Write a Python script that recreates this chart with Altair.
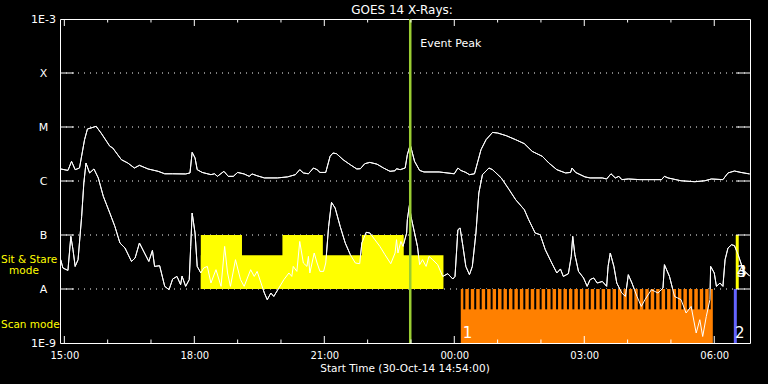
import json
import altair as alt
import pandas as pd

# ---------------- data ----------------
long_time = ["14:55", "15:05", "15:10", "15:15", "15:21", "15:28", "15:32", "15:37", "15:44", "15:51",
             "16:03", "16:07", "16:19", "16:28", "16:37", "16:44", "16:56", "17:10", "17:19", "17:30",
             "17:48", "17:54", "17:57", "18:01", "18:04", "18:11", "18:23", "18:28", "18:32", "18:41",
             "18:47", "18:54", "19:00", "19:09", "19:16", "19:20", "19:27", "19:37", "19:55", "20:09",
             "20:20", "20:26", "20:31", "20:38", "20:45", "20:50", "20:54", "21:02", "21:08", "21:12",
             "21:17", "21:26", "21:36", "21:45", "21:50", "21:56", "22:03", "22:13", "22:22", "22:31",
             "22:38", "22:40", "22:45", "22:52", "22:55", "22:59", "23:05", "23:12", "23:18", "23:39",
             "00:00", "00:05", "00:09", "00:16", "00:21", "00:28", "00:32", "00:37", "00:44", "00:53",
             "01:00", "01:12", "01:25", "01:37", "01:48", "02:02", "02:11", "02:22", "02:34", "02:41",
             "02:43", "02:48", "03:01", "03:08", "03:25", "03:31", "03:37", "03:43", "03:48", "03:52",
             "04:01", "04:17", "04:47", "04:51", "04:56", "05:14", "05:33", "05:47", "05:56", "06:12",
             "06:19", "06:28", "06:37", "06:49"]
long_flux = [1.67e-6, 1.57e-6, 2.31e-6, 1.62e-6, 1.74e-6, 5.82e-6, 9.2e-6, 9.6e-6, 1.03e-5, 7.7e-6,
             4.4e-6, 4.1e-6, 2.48e-6, 2.15e-6, 1.74e-6, 1.95e-6, 1.67e-6, 1.51e-6, 1.36e-6, 1.36e-6,
             1.35e-6, 1.41e-6, 3.39e-6, 2.67e-6, 1.62e-6, 1.44e-6, 1.31e-6, 1.36e-6, 1.22e-6, 1.51e-6,
             1.22e-6, 1.22e-6, 1.44e-6, 1.35e-6, 1.22e-6, 1.35e-6, 1.25e-6, 1.14e-6, 1.14e-6, 1.19e-6,
             1.31e-6, 1.62e-6, 1.41e-6, 1.36e-6, 1.74e-6, 1.62e-6, 1.44e-6, 1.44e-6, 2.86e-6, 3.30e-6,
             3.2e-6, 2.48e-6, 2.0e-6, 1.67e-6, 1.69e-6, 2.09e-6, 2.21e-6, 2.05e-6, 1.74e-6, 1.51e-6,
             1.55e-6, 1.69e-6, 1.62e-6, 1.74e-6, 3.07e-6, 4.70e-6, 2.31e-6, 1.57e-6, 1.47e-6, 1.47e-6,
             1.36e-6, 1.74e-6, 1.57e-6, 1.44e-6, 1.31e-6, 1.36e-6, 2.15e-6, 3.8e-6, 5.82e-6, 7.94e-6,
             7.74e-6, 6.9e-6, 5.82e-6, 4.91e-6, 3.53e-6, 2.86e-6, 2.15e-6, 1.62e-6, 1.41e-6, 1.44e-6,
             1.74e-6, 1.44e-6, 1.19e-6, 1.14e-6, 1.14e-6, 1.09e-6, 1.36e-6, 1.14e-6, 1.22e-6, 1.06e-6,
             1.09e-6, 1.06e-6, 1.06e-6, 1.22e-6, 1.14e-6, 1.01e-6, 9.7e-7, 1.01e-6, 1.09e-6, 1.06e-6,
             1.41e-6, 1.53e-6, 1.44e-6, 1.35e-6]

short_time = ["14:55", "14:58", "15:05", "15:09", "15:12", "15:15", "15:19", "15:24", "15:27", "15:30",
              "15:35", "15:41", "15:47", "15:54", "16:03", "16:10", "16:17", "16:24", "16:33", "16:38",
              "16:44", "16:51", "16:57", "17:02", "17:05", "17:12", "17:19", "17:25", "17:30", "17:36",
              "17:41", "17:43", "17:48", "17:53", "17:55", "17:57", "18:01", "18:04", "18:09", "18:13",
              "18:18", "18:23", "18:30", "18:37", "18:42", "18:46", "18:50", "18:57", "19:04", "19:09",
              "19:18", "19:23", "19:27", "19:37", "19:41", "19:46", "19:50", "19:57", "20:04", "20:11",
              "20:15", "20:17", "20:22", "20:26", "20:31", "20:36", "20:38", "20:40", "20:46", "20:50",
              "20:54", "20:59", "21:02", "21:06", "21:10", "21:15", "21:22", "21:29", "21:36", "21:43",
              "21:49", "21:52", "21:58", "22:03", "22:10", "22:17", "22:24", "22:32", "22:38", "22:40",
              "22:42", "22:46", "22:49", "22:54", "22:55", "22:58", "23:00", "23:05", "23:09", "23:12",
              "23:16", "23:21", "23:25", "23:30", "23:37", "23:44", "23:51", "23:58", "00:01", "00:05",
              "00:08", "00:12", "00:16", "00:21", "00:25", "00:30", "00:34", "00:39", "00:48", "00:53",
              "01:05", "01:16", "01:25", "01:37", "01:43", "01:52", "01:59", "02:06", "02:15", "02:22",
              "02:27", "02:31", "02:38", "02:42", "02:44", "02:47", "02:52", "02:59", "03:04", "03:08",
              "03:13", "03:18", "03:25", "03:31", "03:33", "03:36", "03:41", "03:45", "03:52", "03:57",
              "04:01", "04:06", "04:13", "04:19", "04:24", "04:33", "04:42", "04:49", "04:51", "04:58",
              "05:05", "05:14", "05:21", "05:28", "05:35", "05:40", "05:44", "05:49", "05:54", "05:55",
              "06:00", "06:03", "06:08", "06:12", "06:15", "06:19", "06:24", "06:28", "06:33", "06:40",
              "06:47", "06:49"]
short_flux = [3.49e-8, 2.45e-8, 2.21e-8, 9.42e-8, 5.35e-8, 2.62e-8, 3.49e-8, 2.21e-7, 9.18e-7, 2.15e-6,
              1.41e-6, 1.67e-6, 1.14e-6, 5.19e-7, 2.55e-7, 1.44e-7, 7.11e-8, 5.74e-8, 3.24e-8, 3.75e-8,
              7.11e-8, 4.64e-8, 3.24e-8, 5.19e-8, 2.62e-8, 2.7e-8, 1.12e-8, 9.7e-9, 1.53e-8, 1.71e-8,
              1.2e-8, 1.73e-8, 1.12e-8, 1.49e-8, 6.15e-8, 2.55e-7, 1.09e-7, 2.62e-8, 1.98e-8, 2.45e-8,
              2.62e-8, 1.29e-8, 2.28e-8, 1.12e-8, 6.15e-8, 1.98e-8, 1.12e-8, 3.49e-8, 1.49e-8, 1.12e-8,
              2.28e-8, 1.71e-8, 2.12e-8, 8.43e-9, 6.34e-9, 8.43e-9, 7.29e-9, 1.04e-8, 1.49e-8, 1.98e-8,
              1.71e-8, 2.62e-8, 2.12e-8, 7.6e-8, 3.03e-8, 2.62e-8, 4.02e-8, 1.98e-8, 4.64e-8, 3.03e-8,
              2.12e-8, 2.12e-8, 3.03e-8, 1.44e-7, 4.02e-7, 3.16e-7, 1.44e-7, 7.11e-8, 4.32e-8, 3.03e-8,
              2.94e-8, 7.11e-8, 1.12e-7, 1.09e-7, 8.18e-8, 6.15e-8, 4.32e-8, 2.94e-8, 4.64e-8, 8.18e-8,
              4.64e-8, 7.6e-8, 6.15e-8, 1.09e-7, 1.92e-7, 3.64e-7, 2.21e-7, 1.09e-7, 6.15e-8, 2.82e-8,
              3.49e-8, 2.62e-8, 4.02e-8, 3.49e-8, 2.82e-8, 1.71e-8, 1.92e-8, 1.53e-8, 1.71e-8, 1.25e-7,
              1.35e-7, 6.15e-8, 2.62e-8, 1.84e-8, 2.62e-8, 1.09e-7, 6.0e-7, 1.31e-6, 1.74e-6, 1.62e-6,
              1.14e-6, 6.9e-7, 4.51e-7, 2.94e-7, 1.92e-7, 1.09e-7, 1.01e-7, 5.35e-8, 3.03e-8, 1.98e-8,
              2.35e-8, 1.71e-8, 1.92e-8, 4.02e-8, 9.42e-8, 4.32e-8, 2.12e-8, 1.6e-8, 1.12e-8, 1.49e-8,
              1.6e-8, 1.29e-8, 1.38e-8, 1.12e-8, 2.62e-8, 4.64e-8, 2.62e-8, 1.29e-8, 8.43e-9, 7.29e-9,
              1.84e-8, 1.29e-8, 7.29e-9, 4.76e-9, 6.34e-9, 9.7e-9, 8.43e-9, 1.04e-8, 2.82e-8, 1.71e-8,
              7.29e-9, 6.34e-9, 3.59e-9, 4.76e-9, 1.53e-9, 2.7e-9, 1.32e-9, 3.11e-9, 6.34e-9, 2.62e-8,
              1.98e-8, 1.12e-8, 1.29e-8, 1.12e-8, 3.49e-8, 5.74e-8, 6.61e-8, 6.34e-8, 4.32e-8, 2.28e-8,
              1.84e-8, 1.76e-8]

class_values = [1e-9, 1e-8, 1e-7, 1e-6, 1e-5, 1e-4, 1e-3]
class_labels = ["1E-9", "A", "B", "C", "M", "X", "1E-3"]
grid_values = [1e-8, 1e-7, 1e-6, 1e-5, 1e-4]

major_hours = ["15:00", "18:00", "21:00", "00:00", "03:00", "06:00"]
minor_hours = ["16:00", "17:00", "19:00", "20:00", "22:00", "23:00",
               "01:00", "02:00", "04:00", "05:00"]

event_time = "22:59"
event_label = "Event Peak"

# Sit & Stare mode: whole span at the lower level, plus the taller intervals
sit_span_start = ["18:09"]
sit_span_end = ["23:45"]
sit_span_top = [4.2e-8]
sit_tall_start = ["18:09", "20:02", "21:52"]
sit_tall_end = ["19:06", "20:58", "22:50"]
sit_tall_top = [1e-7, 1e-7, 1e-7]
sit_bottom = 1e-8

scan_start = ["00:09"]
scan_end = ["05:58"]
scan_top = [1e-8]
scan_bottom = [1e-9]
# scan-mode cadence marks, minutes after 00:00 on 31-Oct
scan_mark_min = [13.9, 21.5, 29.0, 36.6, 44.1, 51.7, 59.2, 66.8, 74.3, 81.9, 89.4, 97.0,
                 104.5, 112.1, 119.6, 127.2, 134.7, 142.3, 149.8, 157.4, 164.9, 172.5, 180.0,
                 187.6, 195.1, 202.7, 210.2, 217.8, 225.3, 232.9, 240.4, 248.0, 255.5, 263.1,
                 270.6, 278.2, 285.7, 293.3, 300.8, 308.4, 315.9, 323.5, 331.0, 338.6, 346.1, 353.7]
scan_mark_low = 4.2e-9
scan_mark_high = 1e-8

mode_bar_time = ["06:29:10", "06:31:50"]
mode_bar_low = [1e-9, 1e-8]
mode_bar_high = [1e-8, 1e-7]
mode_bar_color = ["#6464ff", "#ffff00"]

# ---------------- helpers ----------------
def ts(hm):
    parts = hm.split(":")
    while len(parts) < 3:
        parts.append("00")
    day = "2014-10-30" if int(parts[0]) >= 12 else "2014-10-31"
    return pd.Timestamp(f"{day}T{parts[0]}:{parts[1]}:{parts[2]}")


W, H = 690, 324
FONT = "DejaVu Sans"

xscale = alt.Scale(type="time", nice=False,
                   domain=[alt.DateTime(year=2014, month=10, date=30, hours=14, minutes=54),
                           alt.DateTime(year=2014, month=10, date=31, hours=6, minutes=49, seconds=30)])
yscale = alt.Scale(type="log", nice=False, domain=[1e-9, 1e-3])

label_expr = "%s[round(log(datum.value)/LN10)+9]" % json.dumps(class_labels)

x_axis = alt.Axis(values=[alt.DateTime(year=2014, month=10, date=30, hours=h) for h in (15, 18, 21)]
                  + [alt.DateTime(year=2014, month=10, date=31, hours=h) for h in (0, 3, 6)],
                  format="%H:%M", title=None, ticks=False, domain=False, grid=False,
                  labelColor="white", labelFont=FONT, labelFontSize=10, labelPadding=7,
                  labelOverlap=False, labelFlush=False)
y_axis = alt.Axis(values=class_values, labelExpr=label_expr, title=None, ticks=False,
                  domain=False, grid=False, labelColor="white", labelFont=FONT,
                  labelFontSize=11, labelAlign="center", labelBaseline="middle",
                  labelPadding=17, labelOverlap=False, labelFlush=False)


def X(field):
    return alt.X(field, type="temporal", scale=xscale, axis=x_axis)


def Y(field):
    return alt.Y(field, type="quantitative", scale=yscale, axis=y_axis)


# ---------------- tables ----------------
curves = pd.concat([
    pd.DataFrame({"t": [ts(s) for s in long_time], "flux": long_flux, "ch": "long"}),
    pd.DataFrame({"t": [ts(s) for s in short_time], "flux": short_flux, "ch": "short"}),
])
df_grid = pd.DataFrame({"v": grid_values})
df_sit = pd.concat([
    pd.DataFrame({"start": [ts(s) for s in sit_span_start], "end": [ts(s) for s in sit_span_end],
                  "top": sit_span_top, "bottom": sit_bottom}),
    pd.DataFrame({"start": [ts(s) for s in sit_tall_start], "end": [ts(s) for s in sit_tall_end],
                  "top": sit_tall_top, "bottom": sit_bottom}),
])
df_scan = pd.DataFrame({"start": [ts(s) for s in scan_start], "end": [ts(s) for s in scan_end],
                        "top": scan_top, "bottom": scan_bottom})
df_marks = pd.DataFrame({"t": [pd.Timestamp("2014-10-31") + pd.to_timedelta(m, unit="min")
                               for m in scan_mark_min],
                         "low": scan_mark_low, "high": scan_mark_high})
df_bars = pd.DataFrame({"t": [ts(s) for s in mode_bar_time], "low": mode_bar_low,
                        "high": mode_bar_high, "c": mode_bar_color})
df_event = pd.DataFrame({"t": [ts(event_time)], "label": [event_label]})
df_major = pd.DataFrame({"t": [ts(s) for s in major_hours]})
df_minor = pd.DataFrame({"t": [ts(s) for s in minor_hours]})

# ---------------- layers ----------------
lines = alt.Chart(curves).mark_line(color="white", strokeWidth=1).encode(
    x=X("t"), y=Y("flux"), detail="ch:N")

grid = alt.Chart(df_grid).mark_rule(color="white", strokeDash=[1, 5], strokeWidth=1).encode(
    y=Y("v"), x=alt.value(0), x2=alt.value(W))

sit = alt.Chart(df_sit).mark_rect(color="#ffff00").encode(
    x=X("start"), x2="end", y=Y("bottom"), y2="top")

scan = alt.Chart(df_scan).mark_rect(color="#ff8000").encode(
    x=X("start"), x2="end", y=Y("bottom"), y2="top")

marks = alt.Chart(df_marks).mark_rule(color="black", strokeWidth=2).encode(
    x=X("t"), y=Y("low"), y2="high")

bars = alt.Chart(df_bars).mark_rule(strokeWidth=3).encode(
    x=X("t"), y=Y("low"), y2="high", color=alt.Color("c:N", scale=None))

event_rule = alt.Chart(df_event).mark_rule(color="#9acd32", strokeWidth=2.5).encode(x=X("t"))
event_text = alt.Chart(df_event).mark_text(
    color="white", font=FONT, fontSize=11, align="left", baseline="alphabetic", dx=10).encode(
    x=X("t"), y=alt.value(28), text="label:N")

tick_major_b = alt.Chart(df_major).mark_rule(color="white").encode(
    x=X("t"), y=alt.value(H), y2=alt.value(H - 7))
tick_major_t = alt.Chart(df_major).mark_rule(color="white").encode(
    x=X("t"), y=alt.value(0), y2=alt.value(7))
tick_minor_b = alt.Chart(df_minor).mark_rule(color="white").encode(
    x=X("t"), y=alt.value(H), y2=alt.value(H - 3.5))
tick_minor_t = alt.Chart(df_minor).mark_rule(color="white").encode(
    x=X("t"), y=alt.value(0), y2=alt.value(3.5))
ytick_l = alt.Chart(df_grid).mark_rule(color="white").encode(
    y=Y("v"), x=alt.value(0), x2=alt.value(14))
ytick_r = alt.Chart(df_grid).mark_rule(color="white").encode(
    y=Y("v"), x=alt.value(W - 14), x2=alt.value(W))


def text_layer(txt, x, y, size, color="white", align="left"):
    return alt.Chart(pd.DataFrame({"s": [txt]})).mark_text(
        color=color, font=FONT, fontSize=size, align=align, baseline="alphabetic").encode(
        x=alt.value(x), y=alt.value(y), text="s:N")


num1 = alt.Chart(df_scan.assign(s="1")).mark_text(
    color="white", font=FONT, fontSize=15, align="left", baseline="alphabetic", dx=2).encode(
    x=X("start"), y=alt.value(319), text="s:N")
num2 = text_layer("2", 675, 319, 15)
num3 = text_layer("3", 677, 258, 15)
num4 = text_layer("4", 677, 258, 15)

title = text_layer("GOES 14 X-Rays:", 342, -5, 12, align="center")
xtitle = text_layer("Start Time (30-Oct-14 14:54:00)", 345, 352.5, 10.5, align="center")
sit1 = text_layer("Sit & Stare", -59, 243.5, 10.5, color="#ffff00")
sit2 = text_layer("mode", -36, 255, 10.5, color="#ffff00", align="center")
scan_txt = text_layer("Scan mode", -59, 308.5, 10.5, color="#ffff00")

chart = alt.layer(
    lines, grid, sit, scan, marks, bars, lines, event_rule, event_text,
    tick_major_b, tick_major_t, tick_minor_b, tick_minor_t, ytick_l, ytick_r,
    num1, num2, num3, num4, title, xtitle, sit1, sit2, scan_txt,
).properties(
    width=W, height=H,
    padding={"left": 60, "top": 19, "right": 18, "bottom": 41},
    autosize=alt.AutoSizeParams(type="none"),
    background="black",
).configure_view(stroke="white", strokeWidth=1)

chart.save("out.html", embed_options={"renderer": "svg", "actions": False})
